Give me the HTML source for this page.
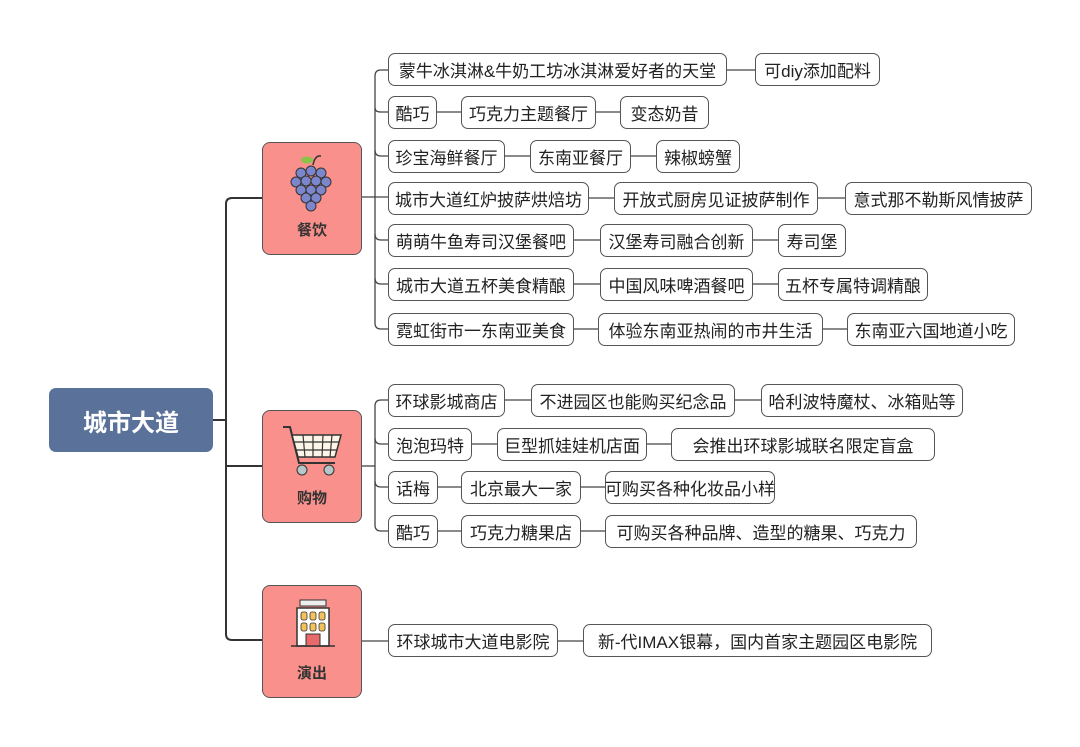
<!DOCTYPE html>
<html><head><meta charset="utf-8">
<style>
body{margin:0;width:1080px;height:747px;background:#fff;position:relative;overflow:hidden;font-family:"Liberation Sans","Noto Sans CJK SC",sans-serif;}
.b{position:absolute;box-sizing:border-box;height:33px;border:1.3px solid #555;border-radius:7px;background:#fff;font-size:17px;color:#222;display:flex;align-items:center;justify-content:center;white-space:nowrap;}
.c{position:absolute;box-sizing:border-box;left:262px;width:100px;height:113px;background:#f9908b;border:1.3px solid #555;border-radius:8px;}
.c span{position:absolute;left:0;right:0;bottom:14px;text-align:center;font-weight:bold;font-size:15px;color:#333;}
.root{position:absolute;left:49px;top:388px;width:164px;height:64px;background:#5a7199;border-radius:7px;color:#fff;font-weight:bold;font-size:24px;display:flex;align-items:center;justify-content:center;}
svg{position:absolute;left:0;top:0;}
</style></head><body>
<svg width="1080" height="747">
<g fill="none" stroke="#333" stroke-width="2">
<line x1="213" y1="420" x2="226" y2="420"/>
<path d="M262 198 H232 Q226 198 226 204 V634 Q226 640 232 640 H262"/>
<line x1="226" y1="466" x2="262" y2="466"/>
</g>
<g fill="none" stroke="#444" stroke-width="1.3">
<line x1="362" y1="197" x2="388" y2="197"/>
<path d="M388 70 H381 Q375 70 375 76 V323 Q375 329 381 329 H388"/>
<path d="M375 108 Q375 112 381 112 H388 M375 150 Q375 156 381 156 H388 M375 234 Q375 240 381 240 H388 M375 278 Q375 284 381 284 H388"/>
<line x1="362" y1="466" x2="375" y2="466"/>
<path d="M388 400 H381 Q375 400 375 406 V525 Q375 531 381 531 H388"/>
<path d="M375 438 Q375 444 381 444 H388 M375 481 Q375 487 381 487 H388"/>
<line x1="362" y1="641" x2="388" y2="641"/>
<line x1="727" y1="70" x2="755" y2="70"/>
<line x1="437" y1="112" x2="461" y2="112"/><line x1="596" y1="112" x2="620" y2="112"/>
<line x1="505" y1="156" x2="530" y2="156"/><line x1="631" y1="156" x2="656" y2="156"/>
<line x1="589" y1="198" x2="614" y2="198"/><line x1="818" y1="198" x2="845" y2="198"/>
<line x1="574" y1="240" x2="600" y2="240"/><line x1="753" y1="240" x2="778" y2="240"/>
<line x1="574" y1="284" x2="600" y2="284"/><line x1="753" y1="284" x2="778" y2="284"/>
<line x1="574" y1="329" x2="598" y2="329"/><line x1="823" y1="329" x2="847" y2="329"/>
<line x1="505" y1="400" x2="531" y2="400"/><line x1="735" y1="400" x2="761" y2="400"/>
<line x1="472" y1="444" x2="497" y2="444"/><line x1="647" y1="444" x2="671" y2="444"/>
<line x1="438" y1="487" x2="461" y2="487"/><line x1="581" y1="487" x2="605" y2="487"/>
<line x1="438" y1="531" x2="461" y2="531"/><line x1="581" y1="531" x2="605" y2="531"/>
<line x1="558" y1="641" x2="583" y2="641"/>
</g>
</svg>
<div class="root">城市大道</div>
<div class="c" style="top:142px"><svg width="100" height="80" style="left:0;top:0">
<path d="M50 22 Q52 12 58 13" stroke="#333" fill="none" stroke-width="1.5"/><ellipse cx="44" cy="17" rx="6" ry="3.5" fill="#8bc34a"/>
<g fill="#7b86cc" stroke="#333" stroke-width="1"><circle cx="38" cy="30" r="5"/><circle cx="48" cy="28" r="5"/><circle cx="58" cy="30" r="5"/><circle cx="33" cy="39" r="5"/><circle cx="43" cy="38" r="5"/><circle cx="53" cy="38" r="5"/><circle cx="63" cy="39" r="5"/><circle cx="38" cy="47" r="5"/><circle cx="48" cy="47" r="5"/><circle cx="58" cy="47" r="5"/><circle cx="43" cy="55" r="5"/><circle cx="53" cy="55" r="5"/><circle cx="48" cy="63" r="5"/></g></svg><span>餐饮</span></div>
<div class="c" style="top:410px"><svg width="100" height="80" style="left:0;top:0">
<path d="M20 16 H27 L36 52 H72" stroke="#333" fill="none" stroke-width="2"/>
<path d="M29 24 H78 L72 46 H35 Z" fill="#fdf5e8" stroke="#333" stroke-width="1.5"/>
<path d="M40 24 L42 46 M50 24 V46 M60 24 L59 46 M69 24 L67 46 M31 31 H76 M33 39 H74" stroke="#333" stroke-width="1.2"/>
<circle cx="39" cy="59" r="5" fill="#b7c6c6" stroke="#333"/><circle cx="66" cy="59" r="5" fill="#b7c6c6" stroke="#333"/></svg><span>购物</span></div>
<div class="c" style="top:585px"><svg width="100" height="80" style="left:0;top:0">
<rect x="37" y="14" width="26" height="6" fill="#eee" stroke="#333"/>
<rect x="34" y="22" width="32" height="38" fill="#fff" stroke="#333" stroke-width="1.5"/>
<g fill="#f3c25b" stroke="#333" stroke-width="0.8"><rect x="38" y="26" width="6" height="8" rx="2"/><rect x="47" y="26" width="6" height="8" rx="2"/><rect x="56" y="26" width="6" height="8" rx="2"/><rect x="38" y="37" width="6" height="8" rx="2"/><rect x="47" y="37" width="6" height="8" rx="2"/><rect x="56" y="37" width="6" height="8" rx="2"/></g>
<rect x="43" y="48" width="14" height="12" fill="#e86a6a" stroke="#333"/><line x1="28" y1="60" x2="72" y2="60" stroke="#333" stroke-width="1.5"/></svg><span>演出</span></div>

<div class="b" style="left:388px;top:53px;width:339px">蒙牛冰淇淋&amp;牛奶工坊冰淇淋爱好者的天堂</div>
<div class="b" style="left:755px;top:53px;width:125px">可diy添加配料</div>
<div class="b" style="left:388px;top:96px;width:49px">酷巧</div>
<div class="b" style="left:461px;top:96px;width:135px">巧克力主题餐厅</div>
<div class="b" style="left:620px;top:96px;width:89px">变态奶昔</div>
<div class="b" style="left:388px;top:140px;width:117px">珍宝海鲜餐厅</div>
<div class="b" style="left:530px;top:140px;width:101px">东南亚餐厅</div>
<div class="b" style="left:656px;top:140px;width:84px">辣椒螃蟹</div>
<div class="b" style="left:388px;top:182px;width:201px">城市大道红炉披萨烘焙坊</div>
<div class="b" style="left:614px;top:182px;width:204px">开放式厨房见证披萨制作</div>
<div class="b" style="left:845px;top:182px;width:187px">意式那不勒斯风情披萨</div>
<div class="b" style="left:388px;top:224px;width:186px">萌萌牛鱼寿司汉堡餐吧</div>
<div class="b" style="left:600px;top:224px;width:153px">汉堡寿司融合创新</div>
<div class="b" style="left:778px;top:224px;width:68px">寿司堡</div>
<div class="b" style="left:388px;top:268px;width:186px">城市大道五杯美食精酿</div>
<div class="b" style="left:600px;top:268px;width:153px">中国风味啤酒餐吧</div>
<div class="b" style="left:778px;top:268px;width:150px">五杯专属特调精酿</div>
<div class="b" style="left:388px;top:313px;width:186px">霓虹街市一东南亚美食</div>
<div class="b" style="left:598px;top:313px;width:225px">体验东南亚热闹的市井生活</div>
<div class="b" style="left:847px;top:313px;width:168px">东南亚六国地道小吃</div>

<div class="b" style="left:388px;top:384px;width:117px">环球影城商店</div>
<div class="b" style="left:531px;top:384px;width:204px">不进园区也能购买纪念品</div>
<div class="b" style="left:761px;top:384px;width:202px">哈利波特魔杖、冰箱贴等</div>
<div class="b" style="left:388px;top:428px;width:84px">泡泡玛特</div>
<div class="b" style="left:497px;top:428px;width:150px">巨型抓娃娃机店面</div>
<div class="b" style="left:671px;top:428px;width:264px">会推出环球影城联名限定盲盒</div>
<div class="b" style="left:388px;top:471px;width:50px">话梅</div>
<div class="b" style="left:461px;top:471px;width:120px">北京最大一家</div>
<div class="b" style="left:605px;top:471px;width:170px">可购买各种化妆品小样</div>
<div class="b" style="left:388px;top:515px;width:50px">酷巧</div>
<div class="b" style="left:461px;top:515px;width:120px">巧克力糖果店</div>
<div class="b" style="left:605px;top:515px;width:312px">可购买各种品牌、造型的糖果、巧克力</div>

<div class="b" style="left:388px;top:624px;width:170px">环球城市大道电影院</div>
<div class="b" style="left:583px;top:624px;width:349px">新-代IMAX银幕，国内首家主题园区电影院</div>
</body></html>
